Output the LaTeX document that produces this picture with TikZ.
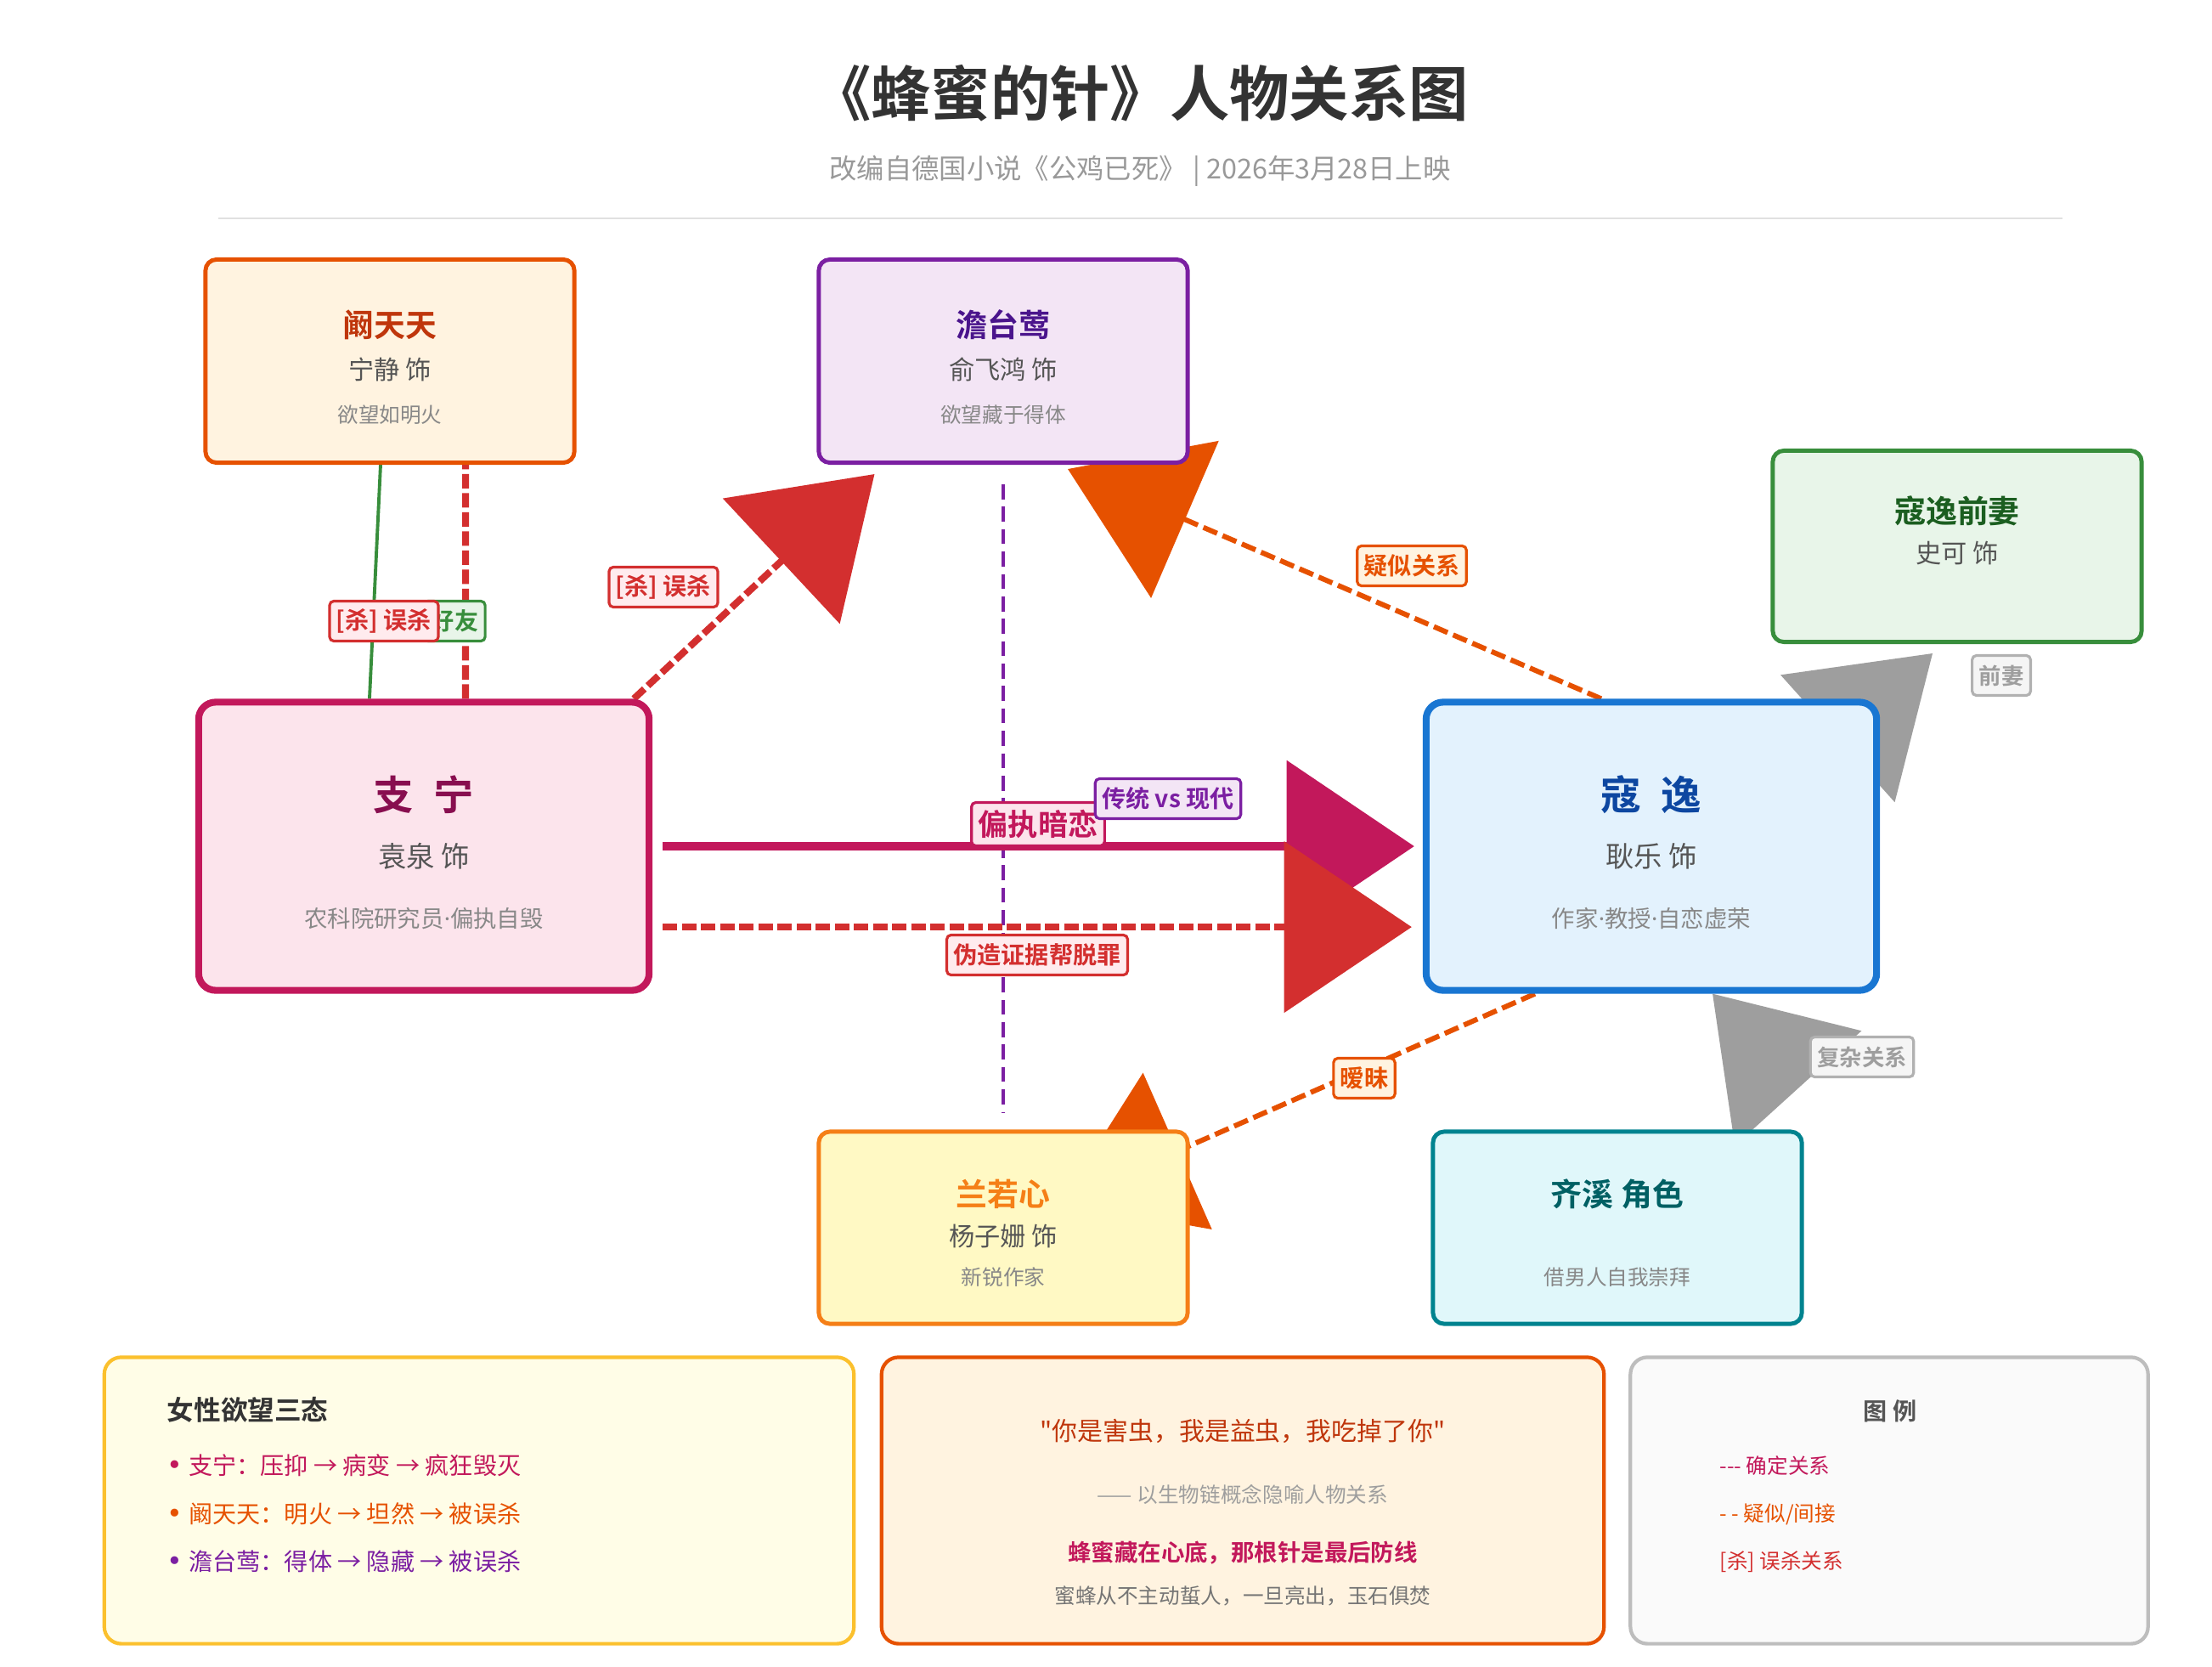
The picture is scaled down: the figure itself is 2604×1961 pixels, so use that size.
\documentclass[tikz,border=0pt]{standalone}
\usepackage{fontspec}
\setmainfont{Noto Sans CJK SC}[BoldFont={Noto Sans CJK SC Bold}, Ligatures=TeXOff]
\newfontfamily\latinfont{Noto Sans}
\newfontfamily\symbfont{DejaVu Sans}
\usetikzlibrary{arrows.meta,backgrounds}

\definecolor{inkdark}{HTML}{333333}
\definecolor{inkactor}{HTML}{555555}
\definecolor{inkdesc}{HTML}{888888}
\definecolor{inkmuted}{HTML}{999999}
\definecolor{rulegray}{HTML}{E0E0E0}
\definecolor{zhiline}{HTML}{C2185B}
\definecolor{zhifill}{HTML}{FCE4EC}
\definecolor{zhiname}{HTML}{880E4F}
\definecolor{kouline}{HTML}{1976D2}
\definecolor{koufill}{HTML}{E3F2FD}
\definecolor{kouname}{HTML}{0D47A1}
\definecolor{kanline}{HTML}{E65100}
\definecolor{kanfill}{HTML}{FFF3E0}
\definecolor{kanname}{HTML}{BF360C}
\definecolor{danline}{HTML}{7B1FA2}
\definecolor{danfill}{HTML}{F3E5F5}
\definecolor{danname}{HTML}{4A148C}
\definecolor{exline}{HTML}{388E3C}
\definecolor{exfill}{HTML}{E8F5E9}
\definecolor{exname}{HTML}{1B5E20}
\definecolor{lanline}{HTML}{F57F17}
\definecolor{lanfill}{HTML}{FFF9C4}
\definecolor{qiline}{HTML}{00838F}
\definecolor{qifill}{HTML}{E0F7FA}
\definecolor{qiname}{HTML}{006064}
\definecolor{killred}{HTML}{D32F2F}
\definecolor{killfill}{HTML}{FFEBEE}
\definecolor{hintgray}{HTML}{9E9E9E}
\definecolor{hintfill}{HTML}{F5F5F5}
\definecolor{notegold}{HTML}{FBC02D}
\definecolor{notefill}{HTML}{FFFDE7}
\definecolor{legendline}{HTML}{BDBDBD}
\definecolor{legendfill}{HTML}{FAFAFA}
\definecolor{quotegray}{HTML}{757575}

\begin{document}
\begin{tikzpicture}[x=0.01cm, y=-0.01cm, >={Triangle[length=1.5cm,width=2cm]},
    every node/.style={inner sep=0pt},
    card/.style={draw, line width=1.4pt, rounded corners=0.13cm,
                 minimum width=4.34cm, minimum height=2.26cm},
    maincard/.style={card, line width=2.3pt, rounded corners=0.2cm,
                     minimum width=5.3cm, minimum height=3.39cm},
    panel/.style={draw, line width=1.2pt, rounded corners=0.2cm, minimum height=3.37cm},
    rolename/.style={font=\bfseries\fontsize{10.5}{12}\selectfont},
    mainname/.style={font=\bfseries\fontsize{13.5}{16}\selectfont},
    actor/.style={text=inkactor, font=\fontsize{8.6}{10}\selectfont},
    mainactor/.style={text=inkactor, font=\fontsize{9.5}{11}\selectfont},
    trait/.style={text=inkdesc, font=\fontsize{7}{8}\selectfont},
    maintrait/.style={text=inkdesc, font=\fontsize{7.8}{9}\selectfont},
    tag/.style={draw, line width=0.9pt, rounded corners=0.05cm, inner xsep=0.08cm,
                minimum height=0.47cm, font=\bfseries\fontsize{8}{9}\selectfont},
    killtag/.style={tag, draw=killred, fill=killfill, text=killred},
    vaguetag/.style={tag, draw=kanline, fill=kanfill, text=kanline},
    hinttag/.style={tag, draw=hintgray!80, fill=hintfill, text=hintgray,
                    font=\bfseries\fontsize{7.5}{9}\selectfont},
    firm/.style={zhiline, line width=2.8pt},
    kill/.style={killred, line width=2.3pt, dash pattern=on 4.8pt off 1.6pt},
    vague/.style={kanline, line width=1.7pt, dash pattern=on 5pt off 2pt},
    contrast/.style={danline, line width=1pt, dash pattern=on 5pt off 2.5pt},
    friend/.style={exline, line width=1.1pt},
    faint/.style={hintgray, line width=1.5pt, dash pattern=on 5pt off 2pt},
    note/.style={font=\fontsize{8}{10}\selectfont, anchor=west}]

  %% 画布
  \useasboundingbox (0,0) rectangle (2604,1961);

  %% 标题
  \node[text=inkdark, font=\bfseries\fontsize{20}{24}\selectfont] (title) at (1342,110)
       {《蜂蜜的针》人物关系图};
  \node[text=inkmuted, font=\fontsize{9.2}{11}\selectfont] (subtitle) at (1342,201)
       {改编自德国小说《公鸡已死》 | 2026年3月28日上映};
  \draw[rulegray, line width=0.6pt] (257,257) -- (2428,257);

  %% 人物卡片
  \node[card, draw=kanline, fill=kanfill, minimum height=2.39cm] (kan) at (459,425) {};
  \node[rolename, text=kanname] (kanN) at (459,382) {阚天天};
  \node[actor] (kanA) at (459,435) {宁静 饰};
  \node[trait] (kanT) at (459,488) {欲望如明火};

  \node[card, draw=danline, fill=danfill, minimum height=2.39cm] (dan) at (1181,425) {};
  \node[rolename, text=danname] (danN) at (1181,382) {澹台莺};
  \node[actor] (danA) at (1181,435) {俞飞鸿 饰};
  \node[trait] (danT) at (1181,488) {欲望藏于得体};

  \node[card, draw=exline, fill=exfill, minimum height=2.25cm] (ex) at (2304,643) {};
  \node[rolename, text=exname] (exN) at (2304,601) {寇逸前妻};
  \node[actor] (exA) at (2304,651) {史可 饰};

  \node[maincard, draw=zhiline, fill=zhifill] (zhi) at (499,996) {};
  \node[mainname, text=zhiname] (zhiN) at (499,935) {支\hspace{0.5em}宁};
  \node[mainactor] (zhiA) at (499,1008) {袁泉 饰};
  \node[maintrait] (zhiT) at (499,1081) {农科院研究员{\latinfont ·}偏执自毁};

  \node[maincard, draw=kouline, fill=koufill] (kou) at (1944,996) {};
  \node[mainname, text=kouname] (kouN) at (1944,935) {寇\hspace{0.5em}逸};
  \node[mainactor] (kouA) at (1944,1008) {耿乐 饰};
  \node[maintrait] (kouT) at (1944,1081) {作家{\latinfont ·}教授{\latinfont ·}自恋虚荣};

  \node[card, draw=lanline, fill=lanfill] (lan) at (1181,1445) {};
  \node[rolename, text=lanline] (lanN) at (1181,1405) {兰若心};
  \node[actor] (lanA) at (1181,1455) {杨子姗 饰};
  \node[trait] (lanT) at (1181,1503) {新锐作家};

  \node[card, draw=qiline, fill=qifill] (qi) at (1904,1445) {};
  \node[rolename, text=qiname] (qiN) at (1904,1405) {齐溪 角色};
  \node[trait] (qiT) at (1904,1503) {借男人自我崇拜};

  %% 关系连线，放在卡片下面
  \begin{scope}[on background layer]
    \fill[white] (0,0) rectangle (2604,1961);
    \draw[friend] ([xshift=-0.64cm]zhi.north) -- ([xshift=-0.11cm]kan.south);
    \draw[kill] ([xshift=0.49cm]zhi.north) -- ([xshift=0.89cm]kan.south);
    \draw[kill, ->] ([xshift=-0.22cm]zhi.north east) -- ([xshift=0.68cm,yshift=-0.11cm]dan.south west);
    \draw[contrast, shorten <=0.23cm, shorten >=0.2cm] (dan.south) -- (lan.north);
    \draw[firm, ->, shorten <=0.12cm, shorten >=0.1cm] (zhi.east) -- (kou.west);
    \draw[kill, ->, shorten <=0.12cm, shorten >=0.13cm] ([yshift=-0.95cm]zhi.east) -- ([yshift=-0.95cm]kou.west);
    \draw[vague, ->] ([xshift=-0.59cm]kou.north) -- ([xshift=0.76cm,yshift=-0.05cm]dan.south);
    \draw[vague, ->, shorten >=0.74cm] ([xshift=-1.37cm]kou.south) -- (lan.center);
    \draw[faint, ->] ([xshift=0.78cm]kou.center) -- ([xshift=-0.29cm,yshift=-0.11cm]ex.south);
    \draw[faint, ->] ([xshift=-0.08cm,yshift=0.5cm]qi.north east) -- ([xshift=0.72cm]kou.south);
  \end{scope}

  %% 连线标签
  \node[tag, draw=exline, fill=exfill, text=exline] (friendTag) at (535,731) {好友};
  \node[killtag] (killKan) at (452,731) {[杀] 误杀};
  \node[killtag] (killDan) at (781,691) {[杀] 误杀};
  \node[tag, draw=zhiline, fill=zhifill, text=zhiline, minimum height=0.51cm,
        font=\bfseries\fontsize{10}{12}\selectfont] (loveTag) at (1222,970) {偏执暗恋};
  \node[tag, draw=danline, fill=danfill, text=danline] (eraTag) at (1375,940) {传统 vs 现代};
  \node[killtag] (fakeTag) at (1221,1124) {伪造证据帮脱罪};
  \node[vaguetag] (suspectTag) at (1662,666) {疑似关系};
  \node[vaguetag] (flirtTag) at (1606,1269) {暧昧};
  \node[hinttag] (exTag) at (2356,795) {前妻};
  \node[hinttag] (complexTag) at (2192,1244) {复杂关系};

  %% 底部三栏
  \node[panel, draw=notegold, fill=notefill, minimum width=8.82cm] (desire) at (564,1766) {};
  \node[note, text=inkdark, font=\bfseries\fontsize{9}{11}\selectfont] (desireT) at (196,1659) {女性欲望三态};
  \node[note, text=zhiline] (desire1) at (196,1725) {{\symbfont\fontsize{9}{9}\selectfont •}\hspace{0.25em}支宁：压抑 → 病变 → 疯狂毁灭};
  \node[note, text=kanline] (desire2) at (196,1782) {{\symbfont\fontsize{9}{9}\selectfont •}\hspace{0.25em}阚天天：明火 → 坦然 → 被误杀};
  \node[note, text=danline] (desire3) at (196,1838) {{\symbfont\fontsize{9}{9}\selectfont •}\hspace{0.25em}澹台莺：得体 → 隐藏 → 被误杀};

  \node[panel, draw=kanline, fill=kanfill, minimum width=8.5cm] (quote) at (1463,1766) {};
  \node[text=kanname, font=\fontsize{8.5}{10}\selectfont] (quoteA) at (1463,1684)
       {"你是害虫，我是益虫，我吃掉了你"};
  \node[text=hintgray, font=\fontsize{7}{9}\selectfont] (quoteB) at (1463,1759)
       {—— 以生物链概念隐喻人物关系};
  \node[text=zhiline, font=\bfseries\fontsize{7.8}{9}\selectfont] (quoteC) at (1463,1828)
       {蜂蜜藏在心底，那根针是最后防线};
  \node[text=quotegray, font=\fontsize{7}{9}\selectfont] (quoteD) at (1463,1878)
       {蜜蜂从不主动蜇人，一旦亮出，玉石俱焚};

  \node[panel, draw=legendline, fill=legendfill, minimum width=6.09cm] (legend) at (2224,1766) {};
  \node[text=inkactor, font=\bfseries\fontsize{8}{10}\selectfont] (legendT) at (2225,1661) {图 例};
  \node[note, text=zhiline, font=\fontsize{7}{9}\selectfont] (legend1) at (2024,1725) {--- 确定关系};
  \node[note, text=kanline, font=\fontsize{7}{9}\selectfont] (legend2) at (2024,1782) {- - 疑似/间接};
  \node[note, text=killred, font=\fontsize{7}{9}\selectfont] (legend3) at (2024,1838) {[杀] 误杀关系};

\end{tikzpicture}
\end{document}
